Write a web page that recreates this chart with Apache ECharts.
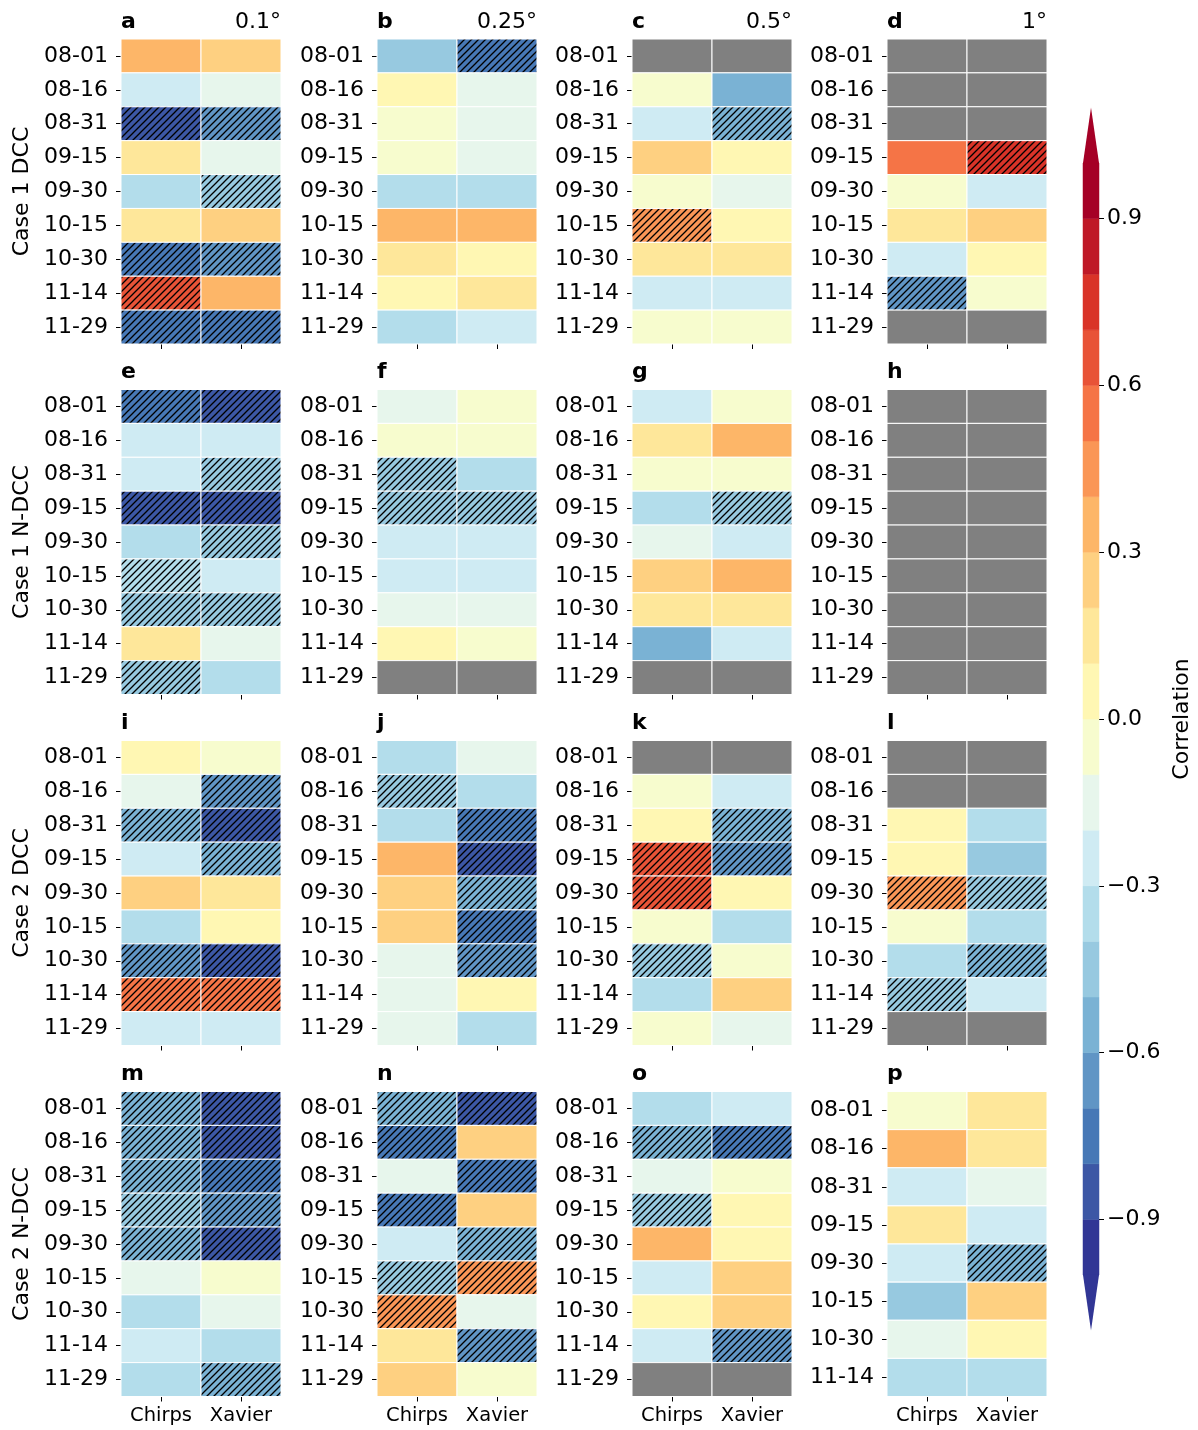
<!DOCTYPE html>
<html>
<head>
<meta charset="utf-8">
<title>Correlation panels</title>
<script src="https://cdn.jsdelivr.net/npm/echarts@6/dist/echarts.min.js"></script>
<style>
  html, body { margin: 0; padding: 0; background: #fff; }
  #chart { width: 1198px; height: 1430px; }
</style>
</head>
<body>
<div id="chart"></div>
<script>
const dates = ['08-01', '08-16', '08-31', '09-15', '09-30', '10-15', '10-30', '11-14', '11-29'];
const datesP = ['08-01', '08-16', '08-31', '09-15', '09-30', '10-15', '10-30', '11-14'];
const products = ['Chirps', 'Xavier'];
const resolutions = ['0.1°', '0.25°', '0.5°', '1°'];
const caseNames = ['Case 1 DCC', 'Case 1 N-DCC', 'Case 2 DCC', 'Case 2 N-DCC'];
const cbTicks = [-0.9, -0.6, -0.3, 0, 0.3, 0.6, 0.9];
// lower edges of the colour bands
const levels = [-1.0, -0.9, -0.8, -0.7, -0.6, -0.5, -0.4, -0.3, -0.2, -0.1,
                0.0, 0.1, 0.2, 0.3, 0.4, 0.5, 0.6, 0.7, 0.8, 0.9];

// correlation per date, [Chirps, Xavier]; null = no data (grey)
const panelA = [[0.35, 0.25], [-0.25, -0.15], [-0.85, -0.65], [0.15, -0.15], [-0.35, -0.45], [0.15, 0.25], [-0.75, -0.65], [0.65, 0.35], [-0.75, -0.75]];
const panelB = [[-0.45, -0.75], [0.05, -0.15], [-0.05, -0.15], [-0.05, -0.15], [-0.35, -0.35], [0.35, 0.35], [0.15, 0.05], [0.05, 0.15], [-0.35, -0.25]];
const panelC = [[null, null], [-0.05, -0.55], [-0.25, -0.55], [0.25, 0.05], [-0.05, -0.15], [0.45, 0.05], [0.15, 0.15], [-0.25, -0.25], [-0.05, -0.05]];
const panelD = [[null, null], [null, null], [null, null], [0.55, 0.75], [-0.05, -0.25], [0.15, 0.25], [-0.25, 0.05], [-0.65, -0.05], [null, null]];
const panelE = [[-0.75, -0.85], [-0.25, -0.25], [-0.25, -0.45], [-0.85, -0.85], [-0.35, -0.45], [-0.35, -0.25], [-0.45, -0.45], [0.15, -0.15], [-0.45, -0.35]];
const panelF = [[-0.15, -0.05], [-0.05, -0.05], [-0.45, -0.35], [-0.45, -0.45], [-0.25, -0.25], [-0.25, -0.25], [-0.15, -0.15], [0.05, -0.05], [null, null]];
const panelG = [[-0.25, -0.05], [0.15, 0.35], [-0.05, -0.05], [-0.35, -0.45], [-0.15, -0.25], [0.25, 0.35], [0.15, 0.15], [-0.55, -0.25], [null, null]];
const panelH = [[null, null], [null, null], [null, null], [null, null], [null, null], [null, null], [null, null], [null, null], [null, null]];
const panelI = [[0.05, -0.05], [-0.15, -0.65], [-0.55, -0.85], [-0.25, -0.55], [0.25, 0.15], [-0.35, 0.05], [-0.65, -0.85], [0.55, 0.55], [-0.25, -0.25]];
const panelJ = [[-0.35, -0.15], [-0.45, -0.35], [-0.35, -0.75], [0.35, -0.85], [0.25, -0.55], [0.25, -0.75], [-0.15, -0.65], [-0.15, 0.05], [-0.15, -0.35]];
const panelK = [[null, null], [-0.05, -0.25], [0.05, -0.55], [0.65, -0.65], [0.65, 0.05], [-0.05, -0.35], [-0.45, -0.05], [-0.35, 0.25], [-0.05, -0.15]];
const panelL = [[null, null], [null, null], [0.05, -0.35], [0.05, -0.45], [0.45, -0.45], [-0.05, -0.35], [-0.35, -0.55], [-0.45, -0.25], [null, null]];
const panelM = [[-0.55, -0.85], [-0.55, -0.85], [-0.55, -0.75], [-0.45, -0.65], [-0.55, -0.85], [-0.15, -0.05], [-0.35, -0.15], [-0.25, -0.35], [-0.35, -0.55]];
const panelN = [[-0.55, -0.85], [-0.75, 0.25], [-0.15, -0.75], [-0.75, 0.25], [-0.25, -0.55], [-0.45, 0.45], [0.45, -0.15], [0.15, -0.65], [0.25, -0.05]];
const panelO = [[-0.35, -0.25], [-0.55, -0.75], [-0.15, -0.05], [-0.45, 0.05], [0.35, 0.05], [-0.25, 0.25], [0.05, 0.25], [-0.25, -0.65], [null, null]];
const panelP = [[-0.05, 0.15], [0.35, 0.15], [-0.25, -0.15], [0.15, -0.25], [-0.25, -0.55], [-0.45, 0.25], [-0.15, 0.05], [-0.35, -0.35]];

// significance (hatched), [Chirps, Xavier]
const sigA = [[0, 0], [0, 0], [1, 1], [0, 0], [0, 1], [0, 0], [1, 1], [1, 0], [1, 1]];
const sigB = [[0, 1], [0, 0], [0, 0], [0, 0], [0, 0], [0, 0], [0, 0], [0, 0], [0, 0]];
const sigC = [[0, 0], [0, 0], [0, 1], [0, 0], [0, 0], [1, 0], [0, 0], [0, 0], [0, 0]];
const sigD = [[0, 0], [0, 0], [0, 0], [0, 1], [0, 0], [0, 0], [0, 0], [1, 0], [0, 0]];
const sigE = [[1, 1], [0, 0], [0, 1], [1, 1], [0, 1], [1, 0], [1, 1], [0, 0], [1, 0]];
const sigF = [[0, 0], [0, 0], [1, 0], [1, 1], [0, 0], [0, 0], [0, 0], [0, 0], [0, 0]];
const sigG = [[0, 0], [0, 0], [0, 0], [0, 1], [0, 0], [0, 0], [0, 0], [0, 0], [0, 0]];
const sigH = [[0, 0], [0, 0], [0, 0], [0, 0], [0, 0], [0, 0], [0, 0], [0, 0], [0, 0]];
const sigI = [[0, 0], [0, 1], [1, 1], [0, 1], [0, 0], [0, 0], [1, 1], [1, 1], [0, 0]];
const sigJ = [[0, 0], [1, 0], [0, 1], [0, 1], [0, 1], [0, 1], [0, 1], [0, 0], [0, 0]];
const sigK = [[0, 0], [0, 0], [0, 1], [1, 1], [1, 0], [0, 0], [1, 0], [0, 0], [0, 0]];
const sigL = [[0, 0], [0, 0], [0, 0], [0, 0], [1, 1], [0, 0], [0, 1], [1, 0], [0, 0]];
const sigM = [[1, 1], [1, 1], [1, 1], [1, 1], [1, 1], [0, 0], [0, 0], [0, 0], [0, 1]];
const sigN = [[1, 1], [1, 0], [0, 1], [1, 0], [0, 1], [1, 1], [1, 0], [0, 1], [0, 0]];
const sigO = [[0, 0], [1, 1], [0, 0], [1, 0], [0, 0], [0, 0], [0, 0], [0, 1], [0, 0]];
const sigP = [[0, 0], [0, 0], [0, 0], [0, 0], [0, 1], [0, 0], [0, 0], [0, 0]];

const panels = [
    {id: 'a', corr: panelA, sig: sigA, rows: dates}, {id: 'b', corr: panelB, sig: sigB, rows: dates},
    {id: 'c', corr: panelC, sig: sigC, rows: dates}, {id: 'd', corr: panelD, sig: sigD, rows: dates},
    {id: 'e', corr: panelE, sig: sigE, rows: dates}, {id: 'f', corr: panelF, sig: sigF, rows: dates},
    {id: 'g', corr: panelG, sig: sigG, rows: dates}, {id: 'h', corr: panelH, sig: sigH, rows: dates},
    {id: 'i', corr: panelI, sig: sigI, rows: dates}, {id: 'j', corr: panelJ, sig: sigJ, rows: dates},
    {id: 'k', corr: panelK, sig: sigK, rows: dates}, {id: 'l', corr: panelL, sig: sigL, rows: dates},
    {id: 'm', corr: panelM, sig: sigM, rows: dates}, {id: 'n', corr: panelN, sig: sigN, rows: dates},
    {id: 'o', corr: panelO, sig: sigO, rows: dates}, {id: 'p', corr: panelP, sig: sigP, rows: datesP}
];

// layout
const FONT = 'DejaVu Sans';
const colLeft = [121, 377, 632, 887];
const rowTop = [39, 389.5, 740.5, 1091.5];
const boxW = 160, boxH = 305;

// RdYlBu_r, cut into 20 bands
const anchors = ['#313695', '#4575b4', '#74add1', '#abd9e9', '#e0f3f8', '#ffffbf',
                 '#fee090', '#fdae61', '#f46d43', '#d73027', '#a50026'];
function hexRgb(h) {
    return [parseInt(h.slice(1, 3), 16), parseInt(h.slice(3, 5), 16), parseInt(h.slice(5, 7), 16)];
}
function cmap(t) {
    const x = t * 10;
    const i = Math.min(9, Math.floor(x));
    const f = x - i;
    const a = hexRgb(anchors[i]), b = hexRgb(anchors[i + 1]);
    const c = a.map((v, n) => Math.round(v + (b[n] - v) * f));
    return 'rgb(' + c.join(',') + ')';
}
function colorFor(v) {
    const k = Math.min(19, Math.max(0, Math.floor((v + 1) * 10 + 1e-6)));
    return cmap(k / 19);
}

// hatch tile "///"
const hatchCanvas = document.createElement('canvas');
const HS = 7;
hatchCanvas.width = HS;
hatchCanvas.height = HS;
(function () {
    const ctx = hatchCanvas.getContext('2d');
    ctx.strokeStyle = '#000';
    ctx.lineWidth = 1.3;
    ctx.beginPath();
    ctx.moveTo(0, HS); ctx.lineTo(HS, 0);
    ctx.moveTo(-2, 2); ctx.lineTo(2, -2);
    ctx.moveTo(HS - 2, HS + 2); ctx.lineTo(HS + 2, HS - 2);
    ctx.stroke();
})();
const hatchFill = {image: hatchCanvas, repeat: 'repeat'};

function renderCell(params, api) {
    const p = api.coord([api.value(0), api.value(1)]);
    const s = api.size([1, 1]);
    const shape = {x: p[0] - s[0] / 2, y: p[1] - s[1] / 2, width: s[0], height: s[1]};
    const missing = api.value(4) === 1;
    const children = [{type: 'rect', shape: shape, style: {fill: missing ? '#808080' : colorFor(api.value(2))}}];
    if (api.value(3) === 1) {
        children.push({type: 'rect', shape: shape, style: {fill: hatchFill}});
    }
    children.push({type: 'rect', shape: shape, style: {fill: 'none', stroke: '#fff', lineWidth: 1}});
    return {type: 'group', children: children};
}

function renderBand(params, api) {
    const lo = api.value(1), hi = api.value(2);
    const a = api.coord([0, lo]), b = api.coord([0, hi]);
    const w = api.size([1, 0])[0];
    const x0 = a[0] - w / 2;
    const col = colorFor((lo + hi) / 2);
    const ext = 0.05 * api.size([0, 2])[1];
    const children = [{type: 'rect', shape: {x: x0, y: b[1], width: w, height: a[1] - b[1]},
                       style: {fill: col, stroke: col, lineWidth: 0.5}}];
    if (params.dataIndex === 0) {
        children.push({type: 'polygon', shape: {points: [[x0, a[1]], [x0 + w, a[1]], [a[0], a[1] + ext]]},
                       style: {fill: col}});
    }
    if (params.dataIndex === levels.length - 1) {
        children.push({type: 'polygon', shape: {points: [[x0, b[1]], [x0 + w, b[1]], [a[0], b[1] - ext]]},
                       style: {fill: col}});
    }
    return {type: 'group', children: children};
}

const grids = [], xAxes = [], yAxes = [], series = [], graphics = [];

panels.forEach(function (p, i) {
    const r = Math.floor(i / 4), c = i % 4;
    grids.push({left: colLeft[c], top: rowTop[r], width: boxW, height: boxH});
    xAxes.push({
        gridIndex: i, type: 'category', data: products,
        axisLine: {show: false},
        axisTick: {show: true, interval: 0, alignWithLabel: true, length: 5, lineStyle: {color: '#000', width: 1}},
        axisLabel: {show: r === 3, interval: 0, fontSize: 19.5, color: '#000', margin: 9, fontFamily: FONT},
        splitLine: {show: false}
    });
    yAxes.push({
        gridIndex: i, type: 'category', data: p.rows, inverse: true,
        axisLine: {show: false},
        axisTick: {show: true, interval: 0, alignWithLabel: true, length: 5, lineStyle: {color: '#000', width: 1}},
        axisLabel: {interval: 0, fontSize: 22, color: '#000', margin: 13, fontFamily: FONT},
        splitLine: {show: false}
    });
    const data = [];
    p.rows.forEach(function (d, k) {
        products.forEach(function (prod, j) {
            const v = p.corr[k][j];
            data.push([j, k, v === null ? 0 : v, p.sig[k][j], v === null ? 1 : 0]);
        });
    });
    series.push({type: 'custom', xAxisIndex: i, yAxisIndex: i, renderItem: renderCell, data: data, silent: true});

    graphics.push({type: 'text', x: colLeft[c], y: rowTop[r] - 17,
        style: {text: p.id, font: 'bold 22px "' + FONT + '"', fill: '#000', align: 'left', verticalAlign: 'middle'}});
    if (r === 0) {
        graphics.push({type: 'text', x: colLeft[c] + boxW, y: rowTop[r] - 17,
            style: {text: resolutions[c], font: '22px "' + FONT + '"', fill: '#000', align: 'right', verticalAlign: 'middle'}});
    }
});

caseNames.forEach(function (name, r) {
    graphics.push({type: 'text', x: 22, y: rowTop[r] + boxH / 2, rotation: Math.PI / 2,
        style: {text: name, font: '22px "' + FONT + '"', fill: '#000', align: 'center', verticalAlign: 'middle'}});
});

// colour bar
const cbIndex = panels.length;
grids.push({left: 1083, top: 163, width: 16, height: 1112});
xAxes.push({gridIndex: cbIndex, type: 'category', data: [''], show: false});
yAxes.push({
    gridIndex: cbIndex, type: 'value', min: -1, max: 1, position: 'right',
    axisLine: {show: false}, splitLine: {show: false},
    axisTick: {show: true, customValues: cbTicks, length: 5, lineStyle: {color: '#000', width: 1}},
    axisLabel: {customValues: cbTicks, fontSize: 22, color: '#000', margin: 8, fontFamily: FONT,
        formatter: function (v) { return (v < 0 ? '\u2212' : '') + Math.abs(v).toFixed(1); }}
});
series.push({type: 'custom', xAxisIndex: cbIndex, yAxisIndex: cbIndex, renderItem: renderBand, silent: true,
    data: levels.map(function (l) { return [0, l, l + 0.1]; })});
graphics.push({type: 'text', x: 1182, y: 719, rotation: Math.PI / 2,
    style: {text: 'Correlation', font: '22px "' + FONT + '"', fill: '#000', align: 'center', verticalAlign: 'middle'}});

const chart = echarts.init(document.getElementById('chart'), null, {renderer: 'canvas'});
chart.setOption({
    animation: false,
    backgroundColor: '#fff',
    textStyle: {fontFamily: FONT},
    grid: grids,
    xAxis: xAxes,
    yAxis: yAxes,
    series: series,
    graphic: graphics
});
</script>
</body>
</html>
